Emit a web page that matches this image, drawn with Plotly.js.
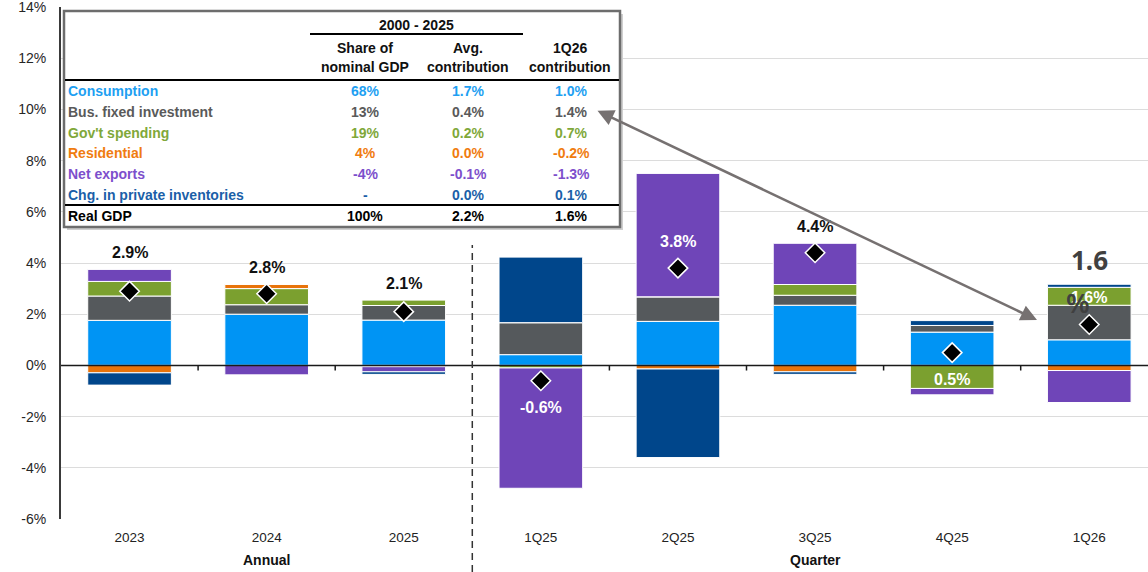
<!DOCTYPE html>
<html>
<head>
<meta charset="utf-8">
<script src="https://cdn.plot.ly/plotly-3.0.1.min.js"></script>
<style>html,body{margin:0;padding:0;background:#fff;}#chart{width:1148px;height:572px;}</style>
</head>
<body>
<div id="chart"></div>
<script>
// ---------- DATA ----------
const categories = ['2023','2024','2025','1Q25','2Q25','3Q25','4Q25','1Q26'];
const consumption = [1.76, 2.00, 1.77, 0.42, 1.72, 2.35, 1.30, 1.00];
const busFixedInv = [0.95, 0.37, 0.57, 1.25, 0.96, 0.39, 0.26, 1.35];
const govSpending = [0.57, 0.63, 0.21, -0.10, 0.00, 0.42, -0.90, 0.70];
const residential = [-0.29, 0.17, -0.05, 0.00, -0.14, -0.25, 0.00, -0.20];
const netExports  = [0.47, -0.37, -0.20, -4.70, 4.82, 1.61, -0.25, -1.25];
const inventories = [-0.48, 0.00, -0.10, 2.56, -3.46, -0.10, 0.19, 0.12];
const realGDP     = [2.9, 2.8, 2.1, -0.6, 3.8, 4.4, 0.5, 1.6];
const yTicks = [-6,-4,-2,0,2,4,6,8,10,12,14];

// table
const rowLabels = ['Consumption','Bus. fixed investment',"Gov't spending",'Residential','Net exports','Chg. in private inventories','Real GDP'];
const shareNominal = ['68%','13%','19%','4%','-4%','-','100%'];
const avgContribution = ['1.7%','0.4%','0.2%','0.0%','-0.1%','0.0%','2.2%'];
const q126Contribution = ['1.0%','1.4%','0.7%','-0.2%','-1.3%','0.1%','1.6%'];

// ---------- STYLE ----------
const FONT = '"Liberation Sans", Arial, sans-serif';
const seriesList = [
  {name:'Consumption', y:consumption, color:'#0094f4', text:'#1e9ff2'},
  {name:'Bus. fixed investment', y:busFixedInv, color:'#55595c', text:'#5a5a5a'},
  {name:"Gov't spending", y:govSpending, color:'#7ba02f', text:'#80a83a'},
  {name:'Residential', y:residential, color:'#e8730a', text:'#f07c10'},
  {name:'Net exports', y:netExports, color:'#6f45b8', text:'#7d4fcc'},
  {name:'Chg. in private inventories', y:inventories, color:'#00468b', text:'#1b5fa8'}
];
const labelPlace = ['above','above','above','below','over','above','below','over'];

const ML=61, MT=7, PW=1087, PH=512;
const px = x => (x-ML)/PW;
const py = y => (MT+PH-y)/PH;
const xs = categories.map((c,i)=>i);

const traces = seriesList.map(s => ({
  type:'bar', x:xs, y:s.y, name:s.name, width:0.61,
  marker:{color:s.color, line:{color:'#ffffff', width:1}},
  hoverinfo:'skip', showlegend:false
}));
traces.push({
  type:'scatter', mode:'markers', x:xs, y:realGDP, showlegend:false,
  marker:{symbol:'diamond', size:15, color:'#000000', line:{color:'#ffffff', width:1.5}}
});

const annotations = [];
const shapes = [];

// GDP labels
xs.forEach(i => {
  const posTop = seriesList.reduce((a,s)=>a+Math.max(0,s.y[i]),0);
  const txt = realGDP[i].toFixed(1)+'%';
  const f = {family:FONT, size:16, color:'#111111', weight:700};
  if (labelPlace[i]==='above') {
    annotations.push({x:i, y:posTop, xref:'x', yref:'y', text:txt, showarrow:false, xanchor:'center', yanchor:'bottom', yshift:6, font:f});
  } else {
    annotations.push({x:i, y:realGDP[i], xref:'x', yref:'y', text:txt, showarrow:false, xanchor:'center', yanchor:'middle',
      yshift: labelPlace[i]==='over' ? 27 : -27, font:Object.assign({}, f, {color:'#ffffff'})});
  }
});
// odd overlay on the last bar
const last = xs.length-1;
const lastTop = seriesList.reduce((a,s)=>a+Math.max(0,s.y[last]),0);
annotations.push({x:last, y:lastTop, xref:'x', yref:'y', text:realGDP[last].toFixed(1), showarrow:false, xanchor:'center', yanchor:'bottom', yshift:4,
  font:{family:'"Noto Sans", sans-serif', size:26, color:'#404040', weight:700}});
annotations.push({x:px(1078), y:py(302), xref:'paper', yref:'paper', text:'%', showarrow:false, xanchor:'center', yanchor:'middle',
  font:{family:'"Noto Sans", sans-serif', size:27, color:'#404040', weight:600}});

// axis group titles
annotations.push({x:1, y:py(560), xref:'x', yref:'paper', text:'Annual', showarrow:false, xanchor:'center', yanchor:'middle', font:{family:FONT, size:14, color:'#111', weight:700}});
annotations.push({x:5, y:py(560), xref:'x', yref:'paper', text:'Quarter', showarrow:false, xanchor:'center', yanchor:'middle', font:{family:FONT, size:14, color:'#111', weight:700}});

// zero line and its ticks
shapes.push({type:'line', xref:'paper', yref:'y', x0:0, x1:1, y0:0, y1:0, layer:'above', line:{color:'#1a1a1a', width:1.5}});
for (let i=0;i<categories.length-1;i++) {
  if (i===2) continue;
  shapes.push({type:'line', xref:'x', yref:'y', x0:i+0.5, x1:i+0.5, y0:0, y1:-0.2, layer:'above', line:{color:'#1a1a1a', width:1.5}});
}
// annual / quarter divider
shapes.push({type:'line', xref:'x', yref:'paper', x0:2.5, x1:2.5, y0:py(572), y1:py(245), layer:'above', line:{color:'#333333', width:1.5, dash:'7px,5px'}});

// table
shapes.push({type:'rect', xref:'paper', yref:'paper', x0:px(67), x1:px(623), y0:py(230), y1:py(14), layer:'above', fillcolor:'#cfcfcf', line:{width:0}});
shapes.push({type:'rect', xref:'paper', yref:'paper', x0:px(64), x1:px(620), y0:py(227), y1:py(11), layer:'above', fillcolor:'#ffffff', line:{color:'#6d6d6d', width:2.5}});
shapes.push({type:'line', xref:'paper', yref:'paper', x0:px(310), x1:px(523), y0:py(34), y1:py(34), layer:'above', line:{color:'#000', width:2}});
shapes.push({type:'line', xref:'paper', yref:'paper', x0:px(65), x1:px(619), y0:py(80), y1:py(80), layer:'above', line:{color:'#000', width:2}});
shapes.push({type:'line', xref:'paper', yref:'paper', x0:px(65), x1:px(619), y0:py(205), y1:py(205), layer:'above', line:{color:'#000', width:2}});

const tf = (c)=>({family:FONT, size:14, color:c, weight:700});
const hdr = (t,x,y)=>annotations.push({x:px(x), y:py(y), xref:'paper', yref:'paper', text:t, showarrow:false, xanchor:'center', yanchor:'middle', font:tf('#111')});
hdr('2000 - 2025',416,25);
hdr('Share of',365,47.7); hdr('nominal GDP',365,66.7);
hdr('Avg.',468,47.7); hdr('contribution',468,66.7);
hdr('1Q26',570,47.7); hdr('contribution',570,66.7);
const rowY = [91,111.7,132.7,153,174,195,216];
rowLabels.forEach((lab,r)=>{
  const col = r < seriesList.length ? seriesList[r].text : '#000000';
  annotations.push({x:px(66), y:py(rowY[r]), xref:'paper', yref:'paper', xanchor:'left', yanchor:'middle', text:lab, showarrow:false, font:tf(col)});
  [[shareNominal,365],[avgContribution,468],[q126Contribution,571]].forEach(([arr,cx])=>{
    annotations.push({x:px(cx), y:py(rowY[r]), xref:'paper', yref:'paper', xanchor:'center', yanchor:'middle', text:arr[r], showarrow:false, font:tf(col)});
  });
});

// arrow from table to last bar
annotations.push({x:px(1037), y:py(320), xref:'paper', yref:'paper', ax:596-1037, ay:110-320, axref:'pixel', ayref:'pixel',
  text:'', showarrow:true, arrowhead:2, arrowside:'end+start', arrowsize:1.3, arrowwidth:2.5, arrowcolor:'#767171', standoff:0, startstandoff:0});

const layout = {
  width:1148, height:572,
  margin:{l:ML, r:1148-ML-PW, t:MT, b:572-MT-PH},
  paper_bgcolor:'#ffffff', plot_bgcolor:'#ffffff',
  barmode:'relative', bargap:0.39, showlegend:false,
  font:{family:FONT},
  xaxis:{range:[-0.5, -0.5+PW/137.1], tickvals:xs, ticktext:categories, showgrid:false, zeroline:false, showline:false,
    ticks:'', ticklabelstandoff:8, tickfont:{family:FONT, size:13.5, color:'#222'}, fixedrange:true},
  yaxis:{range:[-6,14], tickvals:yTicks, ticktext:yTicks.map(v=>v+'%'), showgrid:true, gridcolor:'#dcdcdc', gridwidth:1,
    zeroline:false, showline:true, linecolor:'#3a3a3a', linewidth:2, ticks:'', ticklabelstandoff:10, ticklabeloverflow:'allow',
    tickfont:{family:FONT, size:14, color:'#262626'}, fixedrange:true},
  shapes:shapes, annotations:annotations
};
Plotly.newPlot('chart', traces, layout, {displayModeBar:false, staticPlot:true});
</script>
</body>
</html>
